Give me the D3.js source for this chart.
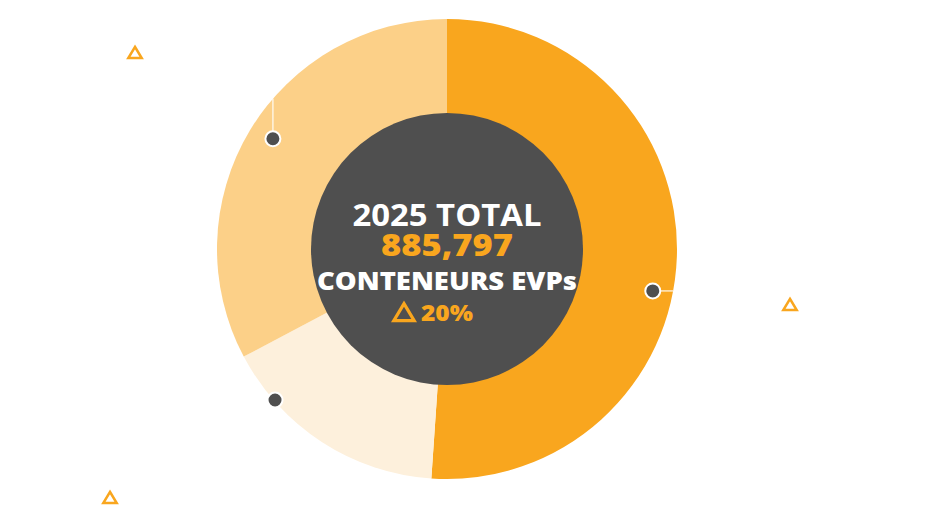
<!DOCTYPE html>
<html>
<head>
<meta charset="utf-8">
<script src="https://cdn.jsdelivr.net/npm/d3@7"></script>
<style>
  body { margin: 0; background: #fff; }
  #chart text { font-family: "Open Sans", Roboto, sans-serif; }
</style>
</head>
<body>
<div id="chart"></div>
<script>
const width = 945;
const height = 509;

// slices, clockwise from 12 o'clock
const categories = ["Segment A", "Segment B", "Segment C"];
const values = [452500, 143200, 290097];
const colors = ["#f9a61e", "#fdf0dc", "#fcd088"];

// marker dots: radius as share of the outer radius, place inside the slice (0..1),
// and which way the leader line runs to the outer edge
const markerRadius = [0.913, 0.995, 0.896];
const markerPos = [0.552, 0.77, 0.511];
const markerDir = ["h", "h", "v"];

// decorative triangles (legend markers)
const triangles = [[135, 53], [790, 305], [110, 498]];

const centerLines = ["2025 TOTAL", "885,797", "CONTENEURS EVPs", "20%"];

const cx = 447, cy = 249;
const outerR = 230, innerR = 136;

const svg = d3.select("#chart")
    .append("svg")
    .attr("width", width)
    .attr("height", height);

const pie = d3.pie().sort(null).value(d => d)(values);

const arc = d3.arc().innerRadius(0).outerRadius(outerR);

const g = svg.append("g").attr("transform", `translate(${cx},${cy})`);

g.selectAll("path.slice")
    .data(pie)
    .enter()
    .append("path")
    .attr("class", "slice")
    .attr("d", arc)
    .attr("fill", (d, i) => colors[i]);

g.append("circle")
    .attr("r", innerR)
    .attr("fill", "#4f4f4f");

// marker dots with leader lines running to the outer edge
const markers = pie.map((d, i) => {
    const a = d.startAngle + (d.endAngle - d.startAngle) * markerPos[i];
    const r = outerR * markerRadius[i];
    return { x: r * Math.sin(a), y: -r * Math.cos(a), i: i };
});

markers.forEach(m => {
    let x2 = m.x, y2 = m.y;
    if (markerDir[m.i] === "h") {
        x2 = Math.sign(m.x) * Math.sqrt(Math.max(0, outerR * outerR - m.y * m.y));
    } else {
        y2 = Math.sign(m.y) * Math.sqrt(Math.max(0, outerR * outerR - m.x * m.x));
    }
    g.append("line")
        .attr("x1", m.x).attr("y1", m.y)
        .attr("x2", x2).attr("y2", y2)
        .attr("stroke", "#fff")
        .attr("stroke-opacity", 0.75)
        .attr("stroke-width", 1.5);
});

g.selectAll("circle.dot")
    .data(markers)
    .enter()
    .append("circle")
    .attr("class", "dot")
    .attr("cx", d => d.x)
    .attr("cy", d => d.y)
    .attr("r", 7.5)
    .attr("fill", "#4f4f4f")
    .attr("stroke", "#fff")
    .attr("stroke-width", 2);

// little triangle outline
const triPath = (s) => `M0,${-s * 0.55}L${s * 0.6},${s * 0.45}L${-s * 0.6},${s * 0.45}Z`;

svg.selectAll("path.tri")
    .data(triangles)
    .enter()
    .append("path")
    .attr("class", "tri")
    .attr("transform", d => `translate(${d[0]},${d[1]})`)
    .attr("d", triPath(11))
    .attr("fill", "none")
    .attr("stroke", "#f9a61e")
    .attr("stroke-width", 2.6)
    .attr("stroke-linejoin", "miter");

// centre label
g.append("text")
    .attr("text-anchor", "middle")
    .attr("y", -23)
    .attr("fill", "#fff")
    .attr("font-size", 30)
    .attr("font-weight", 700)
    .attr("textLength", 189)
    .attr("lengthAdjust", "spacingAndGlyphs")
    .text(centerLines[0]);

g.append("text")
    .attr("text-anchor", "middle")
    .attr("y", 7)
    .attr("fill", "#f9a61e")
    .attr("font-size", 30)
    .attr("font-weight", 800)
    .attr("textLength", 132)
    .attr("lengthAdjust", "spacingAndGlyphs")
    .text(centerLines[1]);

g.append("text")
    .attr("text-anchor", "middle")
    .attr("y", 41)
    .attr("fill", "#fff")
    .attr("font-size", 24)
    .attr("font-weight", 800)
    .attr("textLength", 260)
    .attr("lengthAdjust", "spacingAndGlyphs")
    .text(centerLines[2]);

g.append("path")
    .attr("transform", "translate(-43,64)")
    .attr("d", triPath(17))
    .attr("fill", "none")
    .attr("stroke", "#f9a61e")
    .attr("stroke-width", 3.2);

g.append("text")
    .attr("x", -26)
    .attr("y", 72)
    .attr("fill", "#f9a61e")
    .attr("font-size", 22)
    .attr("font-weight", 800)
    .attr("textLength", 52)
    .attr("lengthAdjust", "spacingAndGlyphs")
    .text(centerLines[3]);
</script>
</body>
</html>
